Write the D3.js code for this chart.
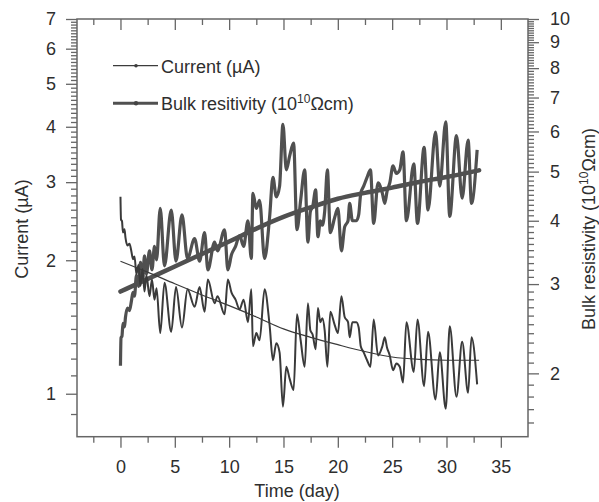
<!DOCTYPE html>
<html>
<head>
<meta charset="utf-8">
<script src="https://cdn.jsdelivr.net/npm/d3@7"></script>
<style>
  html, body { margin: 0; padding: 0; background: #fff; }
  svg { display: block; }
  text { font-family: "Liberation Sans", Arial, Helvetica, sans-serif; }
</style>
</head>
<body>
<div id="chart"></div>
<script>
// ---------- data ----------
const days = [0.00,0.05,0.14,0.23,0.37,0.46,0.64,0.83,1.01,1.15,1.29,1.47,1.66,1.84,2.03,2.21,2.39,2.67,2.90,3.13,3.32,3.66,4.05,4.67,5.11,5.66,6.17,6.82,7.28,7.74,8.04,8.66,8.93,9.58,9.88,10.22,10.59,10.96,11.33,11.73,12.04,12.19,12.50,12.80,13.26,13.72,14.03,14.34,14.64,14.95,15.26,15.57,15.93,16.24,16.58,16.95,17.25,17.47,17.68,17.96,18.17,18.39,18.58,18.79,19.04,19.31,19.71,20.01,20.33,20.63,20.94,21.09,21.34,21.71,21.92,22.11,22.38,22.69,23.00,23.30,23.70,24.10,24.32,24.53,24.78,25.08,25.39,25.70,26.00,26.31,26.99,27.33,27.94,28.30,28.99,29.38,29.93,30.30,30.92,31.44,31.99,32.30,32.82];
const current = [2.78,2.47,2.45,2.31,2.35,2.25,2.16,2.18,2.09,2.01,2.04,1.86,1.95,1.75,1.91,1.70,1.85,1.66,1.81,1.63,1.73,1.37,1.78,1.38,1.74,1.41,1.72,1.57,1.74,1.53,1.81,1.60,1.66,1.51,1.81,1.69,1.63,1.55,1.63,1.45,1.72,1.28,1.37,1.32,1.72,1.43,1.19,1.30,1.24,0.935,1.15,1.08,1.02,1.51,1.32,1.15,1.60,1.39,1.36,1.26,1.56,1.45,1.48,1.39,1.15,1.53,1.43,1.37,1.66,1.49,1.45,1.34,1.45,1.45,1.41,1.28,1.24,1.19,1.15,1.47,1.22,1.28,1.34,1.27,1.22,1.13,1.17,1.15,1.06,1.45,1.12,1.47,1.04,1.38,0.97,1.24,0.925,1.42,0.985,1.31,1.005,1.34,1.05];
const resistivity = [2.07,2.35,2.37,2.51,2.47,2.58,2.69,2.66,2.78,2.89,2.84,3.12,2.97,3.31,3.04,3.41,3.14,3.49,3.20,3.56,3.35,4.23,3.26,4.20,3.33,4.11,3.37,3.69,3.33,3.79,3.20,3.63,3.49,3.84,3.20,3.43,3.56,3.74,3.56,4.00,3.37,4.53,4.23,4.39,3.37,4.06,4.87,4.46,4.68,6.20,5.04,5.37,5.69,3.84,4.39,5.04,3.63,4.17,4.26,4.60,3.72,4.00,3.92,4.17,5.04,3.79,4.06,4.23,3.49,3.89,4.00,4.33,4.00,4.00,4.11,4.53,4.68,4.87,5.04,3.95,4.75,4.53,4.33,4.57,4.75,5.13,4.96,5.04,5.47,4.00,5.18,3.95,5.58,4.20,5.98,4.68,6.27,4.08,5.89,4.43,5.77,4.33,5.52];

const fitDays = [0,2.5,5,7.5,10,12.5,15,17.5,20,22.5,25,27.5,30,33];
const currentFit = [1.99,1.88,1.77,1.67,1.58,1.49,1.40,1.34,1.29,1.245,1.21,1.195,1.19,1.19];
const resistivityFit = [2.90,3.07,3.25,3.44,3.64,3.86,4.07,4.25,4.42,4.54,4.65,4.77,4.88,5.03];

const xMajorTicks = [0,5,10,15,20,25,30,35];
const leftMajorTicks = [1,2,3,4,5,6,7];
const rightMajorTicks = [2,3,4,5,6,7,8,9,10];

const seriesNames = ["Current (\u00B5A)", "Bulk resitivity (10", "10", "\u03A9cm)"];

// ---------- layout ----------
const W = 599, H = 502;
const L = 77, R = 528, T = 19, B = 436.7;
const ink = "#2e2e2e", axisCol = "#666", lineCol = "#505050";
const fs = 18;

const svg = d3.select("#chart").append("svg").attr("width", W).attr("height", H);

const x = d3.scaleLinear().domain([-4, 37.5]).range([L, R]);
const yL = d3.scaleLog().domain([0.8, 7]).range([B, T]);
const yR = d3.scaleLog().domain([1.5, 10]).range([B, T]);

const xMinor = d3.range(-2.5, 35, 5);
const leftMinor = d3.range(9, 70).map(v => v / 10).filter(v => v >= 0.9 && v < 7 && Math.abs(v - Math.round(v)) > 1e-6);
const rightMinor = d3.range(16, 100).map(v => v / 10).filter(v => Math.abs(v - Math.round(v)) > 1e-6);

function styleAxis(g) {
  g.select(".domain").remove();
  g.selectAll("line").attr("stroke", axisCol).attr("stroke-width", 1.3);
  g.selectAll("text").attr("fill", ink).style("font-size", fs + "px")
    .style("font-family", '"Liberation Sans", Arial, sans-serif');
}

// bottom axis
svg.append("g").attr("transform", `translate(0,${B})`)
  .call(d3.axisBottom(x).tickValues(xMinor).tickSize(6).tickFormat(""))
  .call(styleAxis);
svg.append("g").attr("transform", `translate(0,${B})`)
  .call(d3.axisBottom(x).tickValues(xMajorTicks).tickSize(11).tickPadding(12.5).tickFormat(d3.format("d")))
  .call(styleAxis);
// top axis (inward ticks)
svg.append("g").attr("transform", `translate(0,${T})`)
  .call(d3.axisBottom(x).tickValues(xMinor).tickSize(6).tickFormat(""))
  .call(styleAxis);
svg.append("g").attr("transform", `translate(0,${T})`)
  .call(d3.axisBottom(x).tickValues(xMajorTicks).tickSize(11).tickFormat(""))
  .call(styleAxis);
// left axis
svg.append("g").attr("transform", `translate(${L},0)`)
  .call(d3.axisLeft(yL).tickValues(leftMinor).tickSize(6).tickFormat(""))
  .call(styleAxis);
svg.append("g").attr("transform", `translate(${L},0)`)
  .call(d3.axisLeft(yL).tickValues(leftMajorTicks).tickSize(11).tickPadding(10).tickFormat(d3.format("d")))
  .call(styleAxis);
// right axis
svg.append("g").attr("transform", `translate(${R},0)`)
  .call(d3.axisRight(yR).tickValues(rightMinor).tickSize(6).tickFormat(""))
  .call(styleAxis);
svg.append("g").attr("transform", `translate(${R},0)`)
  .call(d3.axisRight(yR).tickValues(rightMajorTicks).tickSize(11).tickPadding(11).tickFormat(d3.format("d")))
  .call(styleAxis);

// frame
svg.append("rect").attr("x", L).attr("y", T).attr("width", R - L).attr("height", B - T)
  .attr("fill", "none").attr("stroke", axisCol).attr("stroke-width", 1.5);

// ---------- series ----------
const curPts = days.map((d, i) => [d, current[i]]);
const resPts = days.map((d, i) => [d, resistivity[i]]);
const curFitPts = fitDays.map((d, i) => [d, currentFit[i]]);
const resFitPts = fitDays.map((d, i) => [d, resistivityFit[i]]);

const lineL = d3.line().curve(d3.curveMonotoneX).x(d => x(d[0])).y(d => yL(d[1]));
const lineR = d3.line().curve(d3.curveMonotoneX).x(d => x(d[0])).y(d => yR(d[1]));
const fitL = d3.line().curve(d3.curveMonotoneX).x(d => x(d[0])).y(d => yL(d[1]));
const fitR = d3.line().curve(d3.curveMonotoneX).x(d => x(d[0])).y(d => yR(d[1]));

svg.append("path").datum(resPts).attr("d", lineR)
  .attr("fill", "none").attr("stroke", lineCol).attr("stroke-width", 3.2).attr("stroke-linejoin", "round");
svg.append("path").datum(resFitPts).attr("d", fitR)
  .attr("fill", "none").attr("stroke", lineCol).attr("stroke-width", 4.5).attr("stroke-linecap", "round");
svg.append("path").datum(curPts).attr("d", lineL)
  .attr("fill", "none").attr("stroke", "#3a3a3a").attr("stroke-width", 2).attr("stroke-linejoin", "round");
svg.append("path").datum(curFitPts).attr("d", fitL)
  .attr("fill", "none").attr("stroke", "#3a3a3a").attr("stroke-width", 1.2);

// ---------- legend ----------
const lg = svg.append("g");
lg.append("line").attr("x1", 113).attr("x2", 158).attr("y1", 65.7).attr("y2", 65.7)
  .attr("stroke", "#3c3c3c").attr("stroke-width", 1.2);
lg.append("circle").attr("cx", 136).attr("cy", 65.7).attr("r", 1.8).attr("fill", "#3c3c3c");
lg.append("text").attr("x", 161).attr("y", 72.5).attr("fill", ink).style("font-size", fs + "px")
  .text(seriesNames[0]);
lg.append("line").attr("x1", 113).attr("x2", 158).attr("y1", 103.3).attr("y2", 103.3)
  .attr("stroke", lineCol).attr("stroke-width", 3);
lg.append("circle").attr("cx", 136).attr("cy", 103.3).attr("r", 2.2).attr("fill", "#444");
const lt2 = lg.append("text").attr("x", 161).attr("y", 110).attr("fill", ink).style("font-size", fs + "px");
lt2.append("tspan").text(seriesNames[1]);
lt2.append("tspan").attr("dy", -7).style("font-size", "12px").text(seriesNames[2]);
lt2.append("tspan").attr("dy", 7).text(seriesNames[3]);

// ---------- axis titles ----------
svg.append("text").attr("x", 297).attr("y", 496.5).attr("text-anchor", "middle")
  .attr("fill", ink).style("font-size", fs + "px").text("Time (day)");
svg.append("text").attr("transform", "translate(28,229) rotate(-90)").attr("text-anchor", "middle")
  .attr("fill", ink).style("font-size", fs + "px").text("Current (\u00B5A)");
const rt = svg.append("text").attr("transform", "translate(595,229) rotate(-90)").attr("text-anchor", "middle")
  .attr("fill", ink).style("font-size", fs + "px");
rt.append("tspan").text("Bulk resistivity (10");
rt.append("tspan").attr("dy", -7).style("font-size", "12px").text("10");
rt.append("tspan").attr("dy", 7).text("\u03A9cm)");
</script>
</body>
</html>
